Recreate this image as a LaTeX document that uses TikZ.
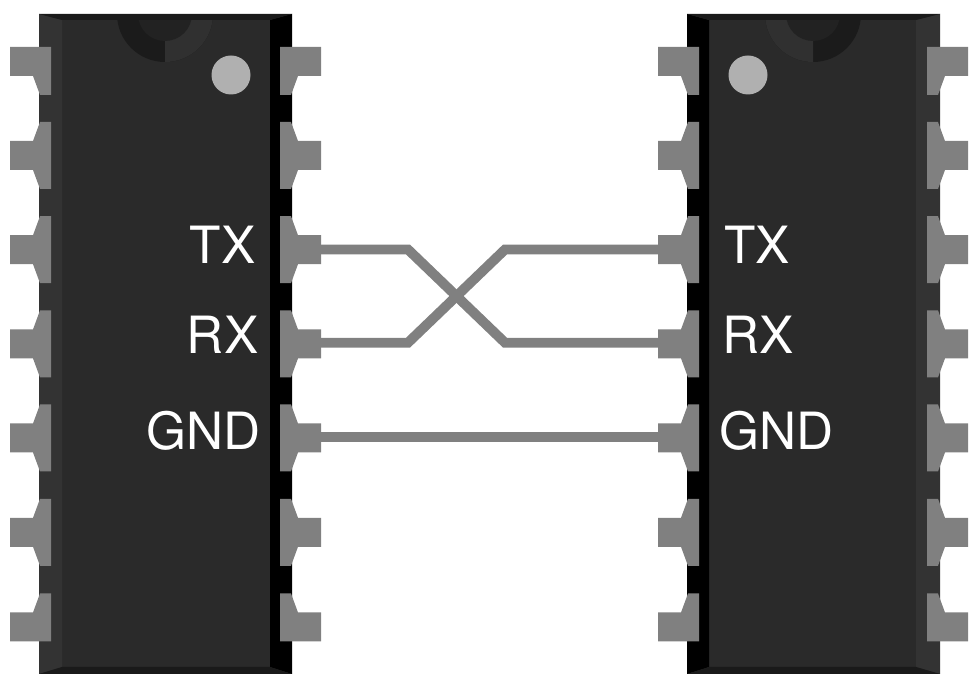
\documentclass[tikz,border=0pt]{standalone}
\usepackage{fontspec}
\setmainfont{TeX Gyre Heros}
\definecolor{chipbody}{HTML}{2A2A2A}
\definecolor{chipedge}{HTML}{333333}
\definecolor{chiprim}{HTML}{1A1A1A}
\definecolor{notchdark}{HTML}{1B1B1B}
\definecolor{notchlight}{HTML}{303030}
\definecolor{notchinner}{HTML}{222222}
\definecolor{pingray}{HTML}{808080}
\definecolor{dotgray}{HTML}{B0B0B0}
\tikzset{
  pinfill/.style={fill=pingray,draw=none},
  wire/.style={draw=pingray,line width=2.8pt},
  chiplabel/.style={text=white,inner sep=0pt,font=\fontsize{14.6}{16}\selectfont},
  pics/pinfirst/.style={code={\fill[pinfill] (0,-14.5)--(-41,-14.5)--(-41,14.5)--(-18,14.5)--(-11,33.5)--(0,33.5)--cycle;}},
  pics/pinmid/.style={code={\fill[pinfill] (0,-33.5)--(-11,-33.5)--(-18,-14.5)--(-41,-14.5)--(-41,14.5)--(-18,14.5)--(-11,33.5)--(0,33.5)--cycle;}},
  pics/pinlast/.style={code={\fill[pinfill] (0,-33.5)--(-11,-33.5)--(-18,-14.5)--(-41,-14.5)--(-41,14.5)--(0,14.5)--cycle;}}
}
\begin{document}
\begin{tikzpicture}[x=0.01cm,y=-0.01cm]
        \useasboundingbox (0,0) rectangle (978,682);
        % left chip
        \fill[chipbody] (39,14) rectangle (292,674);
        \fill[chipedge] (39,14)--(62,20)--(62,667)--(39,674)--cycle;
        \fill[black] (292,14)--(270,20)--(270,667)--(292,674)--cycle;
        \begin{scope}
            \clip (62,20) rectangle (270,70);
            \fill[notchdark] (165,14) circle (48);
            \fill[notchlight] (165,14)--(213,14) arc (0:90:48)--cycle;
            \fill[notchinner] (165,14) circle (27);
        \end{scope}
        \fill[chiprim] (39,14)--(292,14)--(270,20)--(62,20)--cycle;
        \fill[chiprim] (39,674)--(292,674)--(270,667)--(62,667)--cycle;
        \fill[dotgray] (231,75) circle (19.5);
        % right chip
        \fill[chipbody] (687,14) rectangle (940,674);
        \fill[black] (687,14)--(709,20)--(709,667)--(687,674)--cycle;
        \fill[chipedge] (940,14)--(916,20)--(916,667)--(940,674)--cycle;
        \begin{scope}
            \clip (709,20) rectangle (916,70);
            \fill[notchdark] (813,14) circle (48);
            \fill[notchlight] (813,14)--(813,62) arc (90:180:48)--cycle;
            \fill[notchinner] (813,14) circle (27);
        \end{scope}
        \fill[chiprim] (687,14)--(940,14)--(916,20)--(709,20)--cycle;
        \fill[chiprim] (687,674)--(940,674)--(916,667)--(709,667)--cycle;
        \fill[dotgray] (748,75) circle (19.5);
        % pins
        \foreach \xpin/\flip in {51/1,280/-1,699/1,927/-1} {
            \pic[xscale=\flip] at (\xpin,61.5) {pinfirst};
            \foreach \ypin in {155.5,249.7,343.9,438,532.3}
                \pic[xscale=\flip] at (\xpin,\ypin) {pinmid};
            \pic[xscale=\flip] at (\xpin,627) {pinlast};
        }
        % wires
        \coordinate (txleft) at (320,249.5);
        \coordinate (rxleft) at (320,342.7);
        \coordinate (gndleft) at (320,437);
        \coordinate (txright) at (659,249.5);
        \coordinate (rxright) at (659,342.7);
        \coordinate (gndright) at (659,437);
        \coordinate (txbendleft) at (408,249.5);
        \coordinate (rxbendleft) at (408,342.7);
        \coordinate (txbendright) at (505,342.7);
        \coordinate (rxbendright) at (505,249.5);
        \draw[wire] (txleft)--(txbendleft)--(txbendright)--(rxright);
        \draw[wire] (rxleft)--(rxbendleft)--(rxbendright)--(txright);
        \draw[wire] (gndleft)--(gndright);
        % labels
        \node[chiplabel,anchor=base east] (txa) at (256,264) {TX};
        \node[chiplabel,anchor=base east] (rxa) at (259,354) {RX};
        \node[chiplabel,anchor=base east] (gnda) at (261,449) {GND};
        \node[chiplabel,anchor=base west] (txb) at (723.5,264) {TX};
        \node[chiplabel,anchor=base west] (rxb) at (722,354) {RX};
        \node[chiplabel,anchor=base west] (gndb) at (719,449) {GND};
    \end{tikzpicture}
\end{document}
